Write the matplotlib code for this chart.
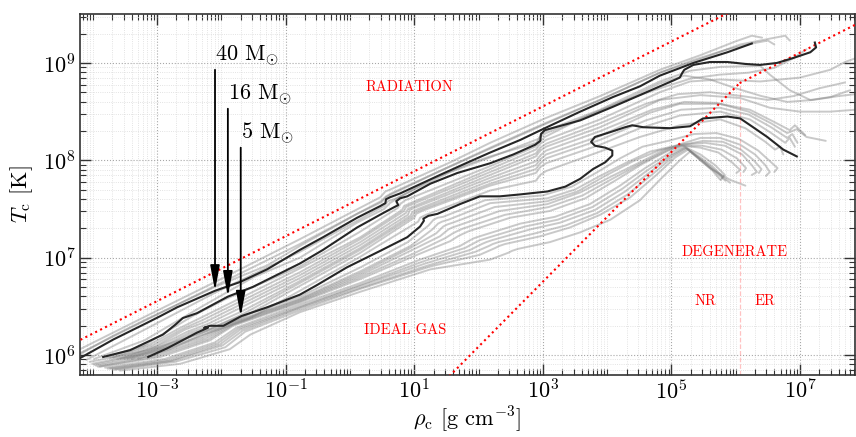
import numpy as np
import matplotlib
matplotlib.use("Agg")
import matplotlib.pyplot as plt
from matplotlib.ticker import FixedLocator, LogLocator, NullFormatter, LogFormatterSciNotation

plt.rcParams["font.family"] = "cmr10"
plt.rcParams["mathtext.fontset"] = "cm"
plt.rcParams["axes.formatter.use_mathtext"] = True

# ---- highlighted tracks: log10(rho_c [g/cm^3]), log10(T_c [K]) ----
lrho_40 = [-4.25, -3.68, -3.16, -2.95, -2.69, -2.10, -1.71, -1.29, -0.78, -0.42, 0.11, 0.47, 0.55, 0.56,
           0.62, 0.78, 1.40, 1.87, 2.18, 2.65, 3.03, 3.58, 4.09, 4.51, 4.82, 5.34, 5.87, 6.25]
lT_40 = [5.95, 6.16, 6.33, 6.40, 6.49, 6.66, 6.75, 6.88, 7.08, 7.21, 7.41, 7.53, 7.56, 7.60,
         7.62, 7.66, 7.85, 7.99, 8.08, 8.21, 8.33, 8.50, 8.65, 8.76, 8.87, 9.00, 9.11, 9.20]

lrho_16 = [-3.84, -3.42, -2.91, -2.72, -2.60, -2.38, -1.90, -1.51, -0.78, -0.42, 0.11, 0.52, 0.69, 0.75,
           0.72, 0.78, 0.89, 1.25, 1.67, 2.18, 2.54, 2.88, 2.96, 2.97, 3.03, 3.58, 4.09, 4.51, 4.82,
           5.03, 5.13, 5.17, 5.20, 5.34, 5.60, 5.87, 6.15, 6.38, 6.64, 6.89, 7.16, 7.25, 7.23]
lT_16 = [5.98, 6.05, 6.21, 6.31, 6.38, 6.43, 6.60, 6.70, 6.94, 7.08, 7.31, 7.46, 7.52, 7.54,
         7.58, 7.61, 7.63, 7.76, 7.87, 7.97, 8.06, 8.16, 8.20, 8.27, 8.31, 8.41, 8.55, 8.67, 8.76,
         8.82, 8.85, 8.90, 8.93, 8.98, 9.01, 9.01, 8.99, 8.98, 9.00, 9.05, 9.11, 9.16, 9.21]

lrho_5 = [-3.14, -2.84, -2.38, -2.21, -2.27, -2.18, -1.97, -1.69, -1.29, -0.78, -0.51, -0.05, 0.47, 0.89,
          1.09, 1.15, 1.14, 1.22, 1.36, 1.71, 2.02, 2.33, 2.65, 3.07, 3.35, 3.58, 3.78, 3.97, 4.08,
          4.08, 3.97, 3.81, 3.75, 3.81, 4.05, 4.28, 4.39, 4.56, 4.98, 5.29, 5.49, 5.87, 6.07, 6.27,
          6.49, 6.74, 6.95]
lT_5 = [5.98, 6.07, 6.23, 6.28, 6.28, 6.30, 6.30, 6.40, 6.49, 6.62, 6.72, 6.90, 7.07, 7.21,
        7.32, 7.38, 7.40, 7.43, 7.45, 7.55, 7.63, 7.63, 7.65, 7.68, 7.73, 7.81, 7.91, 7.98, 8.05,
        8.10, 8.13, 8.15, 8.19, 8.24, 8.29, 8.34, 8.36, 8.34, 8.33, 8.35, 8.43, 8.45, 8.43, 8.34,
        8.24, 8.11, 8.04]

# ---- background grid of models (same units) ----
grid_lrho = [
    [-4.30, -4.20, -3.11, -2.10, -0.78, 0.47, 0.55, 0.66, 1.56, 2.18, 3.03, 3.89, 4.82, 5.45, 5.99, 6.25, 6.41],
    [-4.20, -3.11, -2.10, -0.78, 0.48, 0.56, 0.67, 1.56, 2.18, 3.03, 3.89, 4.82, 5.45, 6.07, 6.53, 6.77, 6.84],
    [-4.25, -3.68, -3.16, -2.10, -1.29, -0.78, 0.11, 0.49, 0.56, 0.64, 1.40, 2.18, 3.03, 3.58, 4.09, 4.82,
     5.34, 5.87, 6.25, 6.50, 6.60],
    [-4.10, -3.11, -2.10, -0.78, 0.53, 0.59, 0.72, 1.56, 2.18, 2.93, 2.99, 3.07, 3.89, 4.82, 5.29, 5.76,
     6.38, 6.53, 6.84, 7.16, 7.47, 7.78],
    [-3.98, -3.20, -2.30, -1.50, -0.78, 0.11, 0.53, 0.62, 0.74, 1.25, 1.87, 2.18, 2.90, 2.96, 3.05, 3.58,
     4.09, 4.82, 5.20, 5.60, 6.00, 6.40, 6.80, 7.20, 7.60, 7.87],
    [-3.78, -3.20, -2.70, -2.45, -1.95, -0.78, 0.14, 0.74, 0.78, 0.86, 2.18, 2.88, 2.95, 3.03, 3.60, 4.20,
     4.82, 5.30, 5.75, 6.20, 6.60, 6.90, 7.10],
    [-3.73, -3.11, -2.64, -2.33, -1.87, -0.78, 0.16, 0.81, 0.84, 0.94, 2.18, 2.89, 2.96, 3.05, 3.89, 4.82,
     5.29, 5.76, 6.38, 7.00, 7.47, 7.70, 7.87],
    [-3.68, -3.07, -2.60, -2.29, -1.83, -0.78, 0.16, 0.84, 0.87, 0.97, 2.18, 2.89, 2.96, 3.05, 3.89, 4.60,
     5.10, 5.60, 6.10, 6.50, 6.90, 7.30, 7.70],
    [-3.62, -3.03, -2.57, -2.25, -1.79, -0.78, 0.16, 0.87, 0.90, 1.00, 2.18, 2.89, 2.96, 3.05, 3.89, 4.82,
     5.45, 6.07, 6.53, 7.00, 7.47, 7.87],
    [-3.57, -2.99, -2.53, -2.21, -1.75, -0.78, 0.16, 0.90, 0.93, 1.03, 2.18, 2.89, 2.96, 3.05, 3.89, 4.70,
     5.20, 5.70, 6.20, 6.55, 6.80, 6.95, 7.10, 7.40],
    [-3.51, -2.95, -2.49, -2.18, -1.71, -0.78, 0.16, 0.94, 0.97, 1.06, 2.18, 2.89, 2.96, 3.05, 3.89, 4.67,
     5.13, 5.76, 6.22, 6.61, 6.84, 6.92, 7.08],
    [-3.46, -2.91, -2.45, -2.14, -1.67, -0.78, 0.16, 0.97, 1.00, 1.09, 2.18, 2.89, 2.96, 3.05, 3.89, 4.60,
     5.15, 5.75, 6.20, 6.55, 6.80, 6.88, 6.96],
    [-3.40, -2.88, -2.41, -2.10, -1.63, -0.78, 0.16, 1.00, 1.03, 1.12, 2.18, 2.89, 2.96, 3.05, 3.89, 4.51,
     5.13, 5.76, 6.22, 6.53, 6.77, 6.84, 6.92],
    [-3.30, -2.80, -2.33, -2.05, -1.55, -0.78, 0.16, 1.06, 1.09, 1.18, 2.18, 2.89, 2.96, 3.05, 3.89, 4.51,
     5.13, 5.76, 6.15, 6.46, 6.61, 6.69, 6.74],
    [-4.05, -3.13, -2.36, -1.85, -0.78, 0.16, 0.90, 1.22, 1.30, 1.36, 1.45, 2.10, 3.00, 3.45, 3.85, 4.20,
     4.55, 4.95, 5.35, 5.70, 6.05, 6.35, 6.55, 6.65, 6.60],
    [-4.01, -3.11, -2.33, -1.82, -0.78, 0.16, 0.94, 1.28, 1.37, 1.43, 1.53, 2.18, 3.07, 3.50, 3.89, 4.28,
     4.67, 5.06, 5.45, 5.76, 6.07, 6.30, 6.46, 6.53, 6.47],
    [-3.98, -3.07, -2.29, -1.82, -0.78, 0.16, 0.94, 1.34, 1.45, 1.51, 1.60, 2.25, 3.07, 3.54, 3.97, 4.40,
     4.80, 5.10, 5.50, 5.80, 6.08, 6.28, 6.40, 6.36],
    [-3.95, -3.03, -2.25, -1.82, -0.78, 0.16, 0.94, 1.40, 1.53, 1.59, 1.68, 2.33, 3.07, 3.58, 4.05, 4.51,
     4.90, 5.13, 5.52, 5.83, 6.10, 6.25, 6.33, 6.25],
    [-3.92, -2.99, -2.21, -1.82, -0.78, 0.16, 0.98, 1.48, 1.60, 1.66, 1.76, 2.41, 3.09, 3.62, 4.08, 4.53,
     4.92, 5.15, 5.48, 5.78, 6.02, 6.16, 6.12],
    [-3.89, -2.95, -2.18, -1.82, -0.78, 0.16, 1.01, 1.56, 1.68, 1.74, 1.84, 2.49, 3.11, 3.66, 4.12, 4.54,
     4.95, 5.17, 5.45, 5.73, 5.94, 6.07, 6.01],
    [-3.81, -2.88, -2.10, -1.77, -0.78, 0.16, 1.09, 1.71, 1.87, 1.93, 2.02, 2.65, 3.19, 3.73, 4.20, 4.59,
     4.98, 5.20, 5.45, 5.68, 5.83, 5.79],
    [-3.77, -2.84, -2.06, -1.74, -0.78, 0.16, 1.13, 1.79, 1.96, 2.02, 2.12, 2.72, 3.23, 3.77, 4.24, 4.63,
     5.00, 5.21, 5.45, 5.65, 5.80, 5.77],
    [-3.73, -2.80, -2.02, -1.71, -0.78, 0.16, 1.17, 1.87, 2.05, 2.12, 2.21, 2.80, 3.27, 3.81, 4.28, 4.67,
     5.01, 5.23, 5.45, 5.63, 5.76],
    [-3.69, -2.76, -1.98, -1.67, -0.78, 0.16, 1.21, 1.95, 2.16, 2.22, 2.31, 2.88, 3.35, 3.85, 4.32, 4.71,
     5.03, 5.24, 5.49, 5.70, 5.84],
    [-3.65, -2.72, -1.94, -1.63, -0.78, 0.16, 1.25, 2.02, 2.26, 2.32, 2.41, 2.96, 3.42, 3.89, 4.36, 4.75,
     5.06, 5.26, 5.52, 5.76, 5.91],
    [-3.58, -2.64, -1.87, -1.55, -0.78, 0.16, 1.25, 2.18, 2.46, 2.52, 2.61, 3.11, 3.58, 4.05, 4.51, 4.85,
     5.13, 5.29, 5.60, 5.91, 6.15],
]
grid_lT = [
    [6.03, 6.06, 6.42, 6.75, 7.19, 7.62, 7.68, 7.71, 7.98, 8.18, 8.43, 8.66, 8.93, 9.08, 9.22, 9.28, 9.26],
    [6.02, 6.38, 6.71, 7.14, 7.58, 7.63, 7.67, 7.94, 8.13, 8.38, 8.62, 8.90, 9.04, 9.19, 9.25, 9.28, 9.23],
    [5.99, 6.20, 6.37, 6.70, 6.92, 7.12, 7.45, 7.57, 7.62, 7.65, 7.89, 8.12, 8.37, 8.53, 8.68, 8.90,
     9.03, 9.14, 9.20, 9.23, 9.19],
    [5.95, 6.29, 6.64, 7.06, 7.53, 7.58, 7.61, 7.88, 8.03, 8.22, 8.28, 8.31, 8.52, 8.81, 8.92, 8.96,
     8.97, 8.88, 8.72, 8.62, 8.65, 8.72],
    [5.96, 6.15, 6.50, 6.80, 7.00, 7.36, 7.50, 7.56, 7.61, 7.80, 7.97, 8.04, 8.18, 8.24, 8.28, 8.42,
     8.56, 8.79, 8.87, 8.83, 8.74, 8.66, 8.60, 8.62, 8.66, 8.68],
    [5.98, 6.10, 6.30, 6.40, 6.57, 6.91, 7.26, 7.51, 7.55, 7.59, 7.94, 8.14, 8.19, 8.24, 8.43, 8.60,
     8.74, 8.84, 8.88, 8.90, 8.95, 9.05, 9.14],
    [5.97, 6.11, 6.28, 6.38, 6.53, 6.89, 7.21, 7.49, 7.53, 7.56, 7.91, 8.11, 8.17, 8.21, 8.42, 8.70,
     8.81, 8.83, 8.81, 8.85, 8.93, 9.01, 9.05],
    [5.97, 6.10, 6.27, 6.36, 6.51, 6.85, 7.19, 7.48, 7.52, 7.55, 7.88, 8.07, 8.13, 8.17, 8.38, 8.58,
     8.68, 8.70, 8.66, 8.62, 8.66, 8.74, 8.80],
    [5.96, 6.09, 6.26, 6.34, 6.49, 6.82, 7.16, 7.46, 7.50, 7.53, 7.85, 8.04, 8.10, 8.14, 8.34, 8.62,
     8.67, 8.64, 8.54, 8.50, 8.50, 8.52],
    [5.96, 6.09, 6.24, 6.32, 6.47, 6.79, 7.13, 7.44, 7.49, 7.52, 7.82, 7.99, 8.05, 8.10, 8.30, 8.52,
     8.60, 8.59, 8.50, 8.38, 8.28, 8.32, 8.24, 8.20],
    [5.96, 6.08, 6.23, 6.30, 6.44, 6.76, 7.10, 7.43, 7.47, 7.50, 7.79, 7.95, 8.01, 8.06, 8.25, 8.49,
     8.58, 8.58, 8.52, 8.39, 8.31, 8.36, 8.26],
    [5.96, 6.08, 6.22, 6.28, 6.42, 6.74, 7.08, 7.42, 7.46, 7.49, 7.76, 7.91, 7.97, 8.02, 8.21, 8.41,
     8.52, 8.54, 8.47, 8.34, 8.23, 8.27, 8.18],
    [5.96, 6.07, 6.21, 6.27, 6.40, 6.71, 7.05, 7.41, 7.45, 7.48, 7.74, 7.87, 7.93, 7.97, 8.16, 8.33,
     8.46, 8.50, 8.42, 8.29, 8.18, 8.23, 8.14],
    [5.96, 6.06, 6.20, 6.26, 6.38, 6.66, 7.01, 7.37, 7.41, 7.44, 7.69, 7.79, 7.85, 7.89, 8.09, 8.24,
     8.36, 8.42, 8.33, 8.19, 8.11, 8.14, 8.06],
    [5.93, 6.05, 6.21, 6.36, 6.60, 6.90, 7.16, 7.33, 7.39, 7.41, 7.42, 7.59, 7.64, 7.73, 7.88, 8.02,
     8.14, 8.20, 8.27, 8.28, 8.22, 8.10, 7.98, 7.92, 7.88],
    [5.91, 6.03, 6.19, 6.34, 6.58, 6.86, 7.12, 7.29, 7.35, 7.37, 7.39, 7.56, 7.61, 7.70, 7.84, 7.97,
     8.09, 8.15, 8.23, 8.23, 8.16, 8.06, 7.95, 7.88, 7.84],
    [5.90, 6.02, 6.18, 6.33, 6.57, 6.84, 7.10, 7.25, 7.32, 7.34, 7.36, 7.52, 7.58, 7.68, 7.84, 7.99,
     8.10, 8.15, 8.20, 8.19, 8.11, 8.00, 7.91, 7.87],
    [5.89, 6.00, 6.17, 6.32, 6.56, 6.82, 7.07, 7.22, 7.29, 7.31, 7.33, 7.48, 7.55, 7.67, 7.83, 7.98,
     8.11, 8.16, 8.18, 8.15, 8.06, 7.95, 7.88, 7.85],
    [5.88, 5.99, 6.16, 6.31, 6.55, 6.80, 7.04, 7.20, 7.25, 7.27, 7.30, 7.44, 7.52, 7.64, 7.81, 7.97,
     8.10, 8.15, 8.15, 8.11, 8.02, 7.92, 7.88],
    [5.88, 5.98, 6.15, 6.30, 6.54, 6.78, 7.02, 7.17, 7.22, 7.24, 7.27, 7.41, 7.48, 7.61, 7.79, 7.96,
     8.10, 8.15, 8.13, 8.08, 7.98, 7.90, 7.87],
    [5.87, 5.96, 6.13, 6.28, 6.52, 6.74, 6.98, 7.12, 7.18, 7.20, 7.22, 7.35, 7.42, 7.55, 7.74, 7.92,
     8.08, 8.14, 8.06, 7.95, 7.85, 7.82],
    [5.86, 5.95, 6.12, 6.27, 6.50, 6.72, 6.96, 7.10, 7.16, 7.18, 7.20, 7.32, 7.39, 7.52, 7.71, 7.90,
     8.06, 8.13, 8.03, 7.93, 7.83, 7.80],
    [5.86, 5.94, 6.11, 6.26, 6.49, 6.71, 6.94, 7.08, 7.14, 7.16, 7.18, 7.29, 7.36, 7.49, 7.68, 7.88,
     8.05, 8.13, 8.00, 7.90, 7.80],
    [5.85, 5.94, 6.10, 6.25, 6.48, 6.69, 6.92, 7.06, 7.12, 7.14, 7.16, 7.25, 7.33, 7.46, 7.65, 7.86,
     8.04, 8.12, 7.99, 7.87, 7.79],
    [5.85, 5.93, 6.08, 6.24, 6.46, 6.68, 6.91, 7.03, 7.10, 7.12, 7.14, 7.22, 7.31, 7.44, 7.62, 7.84,
     8.03, 8.11, 7.98, 7.85, 7.77],
    [5.84, 5.91, 6.06, 6.21, 6.44, 6.65, 6.88, 6.98, 7.05, 7.07, 7.09, 7.16, 7.26, 7.39, 7.59, 7.82,
     8.00, 8.09, 7.92, 7.80, 7.74],
]

track_labels = [r"40 $\mathrm{M}_{\odot}$", r"16 $\mathrm{M}_{\odot}$", r"5 $\mathrm{M}_{\odot}$"]
arrow_lrho = [-2.10, -1.90, -1.70]
arrow_top_lT = [8.93, 8.53, 8.13]

region_names = ["RADIATION", "IDEAL GAS", "DEGENERATE", "NR", "ER"]
region_lrho = [0.92, 0.86, 5.98, 5.53, 6.46]
region_lT = [8.75, 6.26, 7.06, 6.55, 6.55]

# boundary relations: log T = a + b log rho
rad_a, rad_b = 7.554, 1.0 / 3.0
nr_a, nr_b = 4.753, 2.0 / 3.0
er_lrho = 6.06

x_lim = (10 ** -4.2, 10 ** 7.855)
y_lim = (10 ** 5.80, 10 ** 9.503)

fig = plt.figure(figsize=(8.56, 4.37), dpi=100)
ax = fig.add_axes([80 / 856, 62.5 / 437, 775 / 856, 360.5 / 437])
ax.set_xscale("log")
ax.set_yscale("log")

for xs, ys in zip(grid_lrho, grid_lT):
    ax.plot(10 ** np.array(xs), 10 ** np.array(ys), color="#7a7a7a", alpha=0.40, lw=1.4,
            solid_capstyle="round", zorder=2)

tracks = [(lrho_40, lT_40), (lrho_16, lT_16), (lrho_5, lT_5)]
for xs, ys in tracks:
    ax.plot(10 ** np.array(xs), 10 ** np.array(ys), color="#262626", lw=1.5, zorder=4)

# regime boundaries
lr_all = np.array([-4.5, 8.0])
ax.plot(10 ** lr_all, 10 ** (rad_a + rad_b * lr_all), color="red", ls=":", lw=1.5, zorder=3)
lr_nr = np.array([1.0, er_lrho])
ax.plot(10 ** lr_nr, 10 ** (nr_a + nr_b * lr_nr), color="red", ls=":", lw=1.5, zorder=3)
lT_er = nr_a + nr_b * er_lrho
lr_er = np.array([er_lrho, 8.0])
ax.plot(10 ** lr_er, 10 ** (lT_er + (lr_er - er_lrho) / 3.0), color="red", ls=":", lw=1.5, zorder=3)
ax.plot([10 ** er_lrho] * 2, [y_lim[0], 10 ** lT_er], color="#ff9a9a", ls="--", lw=0.9,
        alpha=0.6, zorder=1)

for name, xr, yt in zip(region_names, region_lrho, region_lT):
    ax.text(10 ** xr, 10 ** yt, name, color="red", fontsize=10.5, ha="center", va="center")

for label, xa, ytop, (xs, ys) in zip(track_labels, arrow_lrho, arrow_top_lT, tracks):
    xs = np.array(xs)
    ys = np.array(ys)
    ytip = np.interp(xa, xs[:10], ys[:10])
    ax.annotate("", xy=(10 ** xa, 10 ** ytip), xytext=(10 ** xa, 10 ** ytop),
                arrowprops=dict(arrowstyle="-|>,head_length=1.5,head_width=0.28", color="black",
                                lw=1.3, shrinkA=0, shrinkB=0), zorder=6)
    ax.text(10 ** xa, 10 ** (ytop + 0.02), label, fontsize=16, ha="left", va="bottom", zorder=6)

ax.set_xlim(*x_lim)
ax.set_ylim(*y_lim)
ax.xaxis.set_major_locator(FixedLocator([1e-3, 1e-1, 1e1, 1e3, 1e5, 1e7]))
ax.xaxis.set_minor_locator(LogLocator(base=10, subs=np.arange(1, 10), numticks=50))
ax.xaxis.set_minor_formatter(NullFormatter())
ax.yaxis.set_major_locator(FixedLocator([1e6, 1e7, 1e8, 1e9]))
ax.yaxis.set_minor_locator(LogLocator(base=10, subs=np.arange(2, 10), numticks=50))
ax.yaxis.set_minor_formatter(NullFormatter())
ax.xaxis.set_major_formatter(LogFormatterSciNotation())
ax.yaxis.set_major_formatter(LogFormatterSciNotation())

ax.grid(True, which="major", color="#a8a8a8", ls=":", lw=0.8, zorder=0)
ax.grid(True, which="minor", color="#dadada", ls=":", lw=0.6, zorder=0)
ax.set_axisbelow(True)
ax.tick_params(which="both", direction="in", top=True, right=True, labelsize=16, colors="#333333",
               labelcolor="black")
ax.tick_params(which="major", length=8, width=1.0, pad=3)
ax.tick_params(which="minor", length=4, width=0.8)
for sp in ax.spines.values():
    sp.set_color("#333333")
    sp.set_linewidth(1.2)

ax.set_xlabel(r"$\rho_{\rm c}$ [g cm$^{-3}$]", fontsize=16, labelpad=1)
ax.set_ylabel(r"$T_{\rm c}$ [K]", fontsize=16, labelpad=6)

fig.savefig("out.png", dpi=100)
